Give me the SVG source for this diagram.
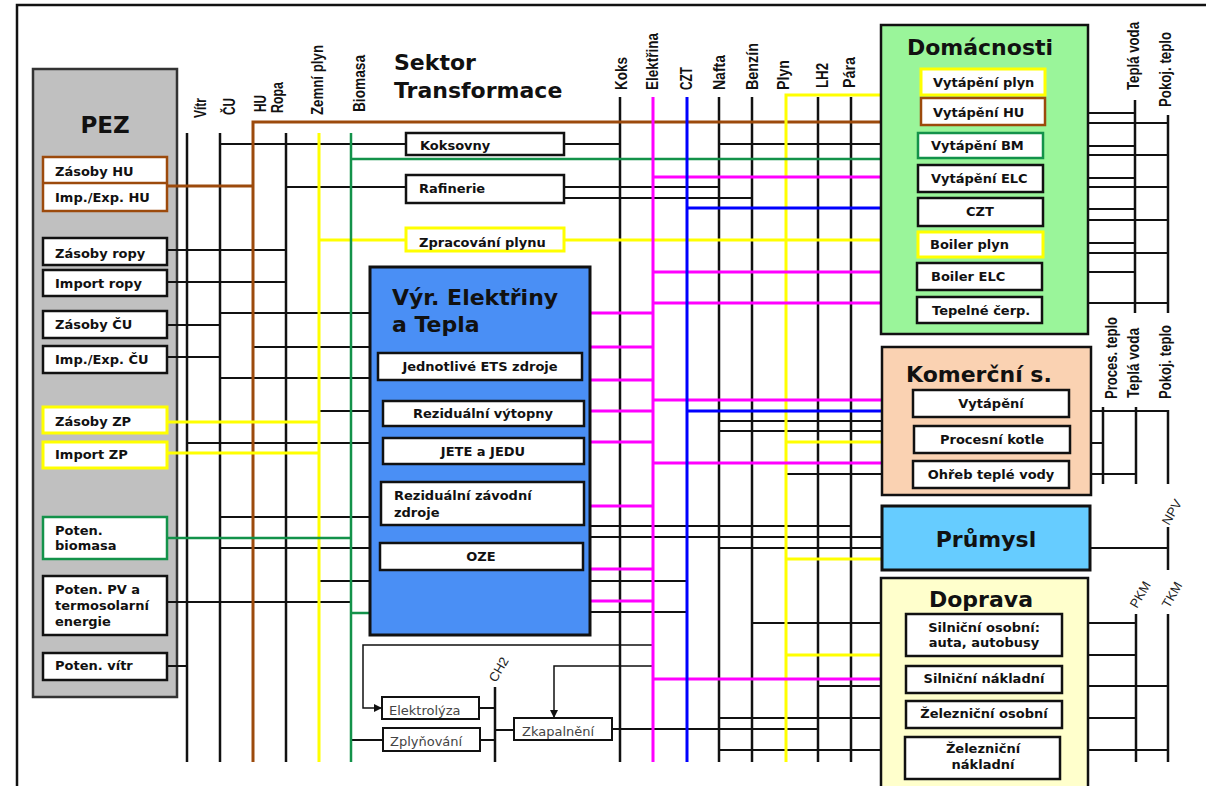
<svg xmlns="http://www.w3.org/2000/svg" width="1206" height="786" viewBox="0 0 1206 786">
<defs>
<style>
.t{font-family:"DejaVu Sans","Liberation Sans",sans-serif;font-weight:bold;font-size:13px;fill:#111}
.h{font-family:"DejaVu Sans","Liberation Sans",sans-serif;font-weight:bold;font-size:22px;fill:#111}
.v{font-family:"Liberation Sans",Arial,sans-serif;font-weight:bold;font-size:16px;fill:#111}
.d{font-family:"Liberation Sans",Arial,sans-serif;font-size:13px;fill:#222}
.s{font-family:"DejaVu Sans","Liberation Sans",sans-serif;font-size:13px;fill:#444}
.m{text-anchor:middle}
.bx{fill:#fff;stroke:#111;stroke-width:2.5}
.bxs{fill:#fff;stroke:#111;stroke-width:2}
.bbr{fill:#fff;stroke:#9c4a0c;stroke-width:2.5}
.bye{fill:#fff;stroke:#ffff00;stroke-width:3}
.bgr{fill:#fff;stroke:#13924a;stroke-width:2.5}
.k{stroke:#111;stroke-width:2;fill:none}
.kv{stroke:#111;stroke-width:2.5;fill:none}
.kt{stroke:#111;stroke-width:1.5;fill:none}
.br{stroke:#9c4a0c;stroke-width:3;fill:none}
.ye{stroke:#ffff00;stroke-width:3;fill:none}
.gr{stroke:#13924a;stroke-width:2.5;fill:none}
.mg{stroke:#ff00ff;stroke-width:3;fill:none}
.bl{stroke:#0000ff;stroke-width:3;fill:none}
</style>
<marker id="arr" markerWidth="8" markerHeight="8" refX="7" refY="4" orient="auto" markerUnits="userSpaceOnUse"><path d="M0,0 L8,4 L0,8 z" fill="#111"/></marker>
</defs>
<rect width="1206" height="786" fill="#fff"/>
<path d="M17,786 V5 H1206" fill="none" stroke="#111" stroke-width="2.5"/>

<g id="pez">
<rect x="33" y="69" width="144" height="628" fill="#c0c0c0" stroke="#333" stroke-width="2.5"/>
<text class="h m" x="105" y="133" style="font-size:23px">PEZ</text>
</g>

<g id="title-transformace">
<text class="h" x="394" y="70">Sektor</text>
<text class="h" x="394" y="98">Transformace</text>
</g>

<g id="bus-labels">
<text class="v" transform="translate(206,118) rotate(-90)" textLength="20" lengthAdjust="spacingAndGlyphs">Vítr</text>
<text class="v" transform="translate(235,115) rotate(-90)" textLength="17" lengthAdjust="spacingAndGlyphs">ČU</text>
<text class="v" transform="translate(266,112) rotate(-90)" textLength="17" lengthAdjust="spacingAndGlyphs">HU</text>
<text class="v" transform="translate(283,113) rotate(-90)" textLength="31" lengthAdjust="spacingAndGlyphs">Ropa</text>
<text class="v" transform="translate(323,115) rotate(-90)" textLength="70" lengthAdjust="spacingAndGlyphs">Zemní plyn</text>
<text class="v" transform="translate(365,112) rotate(-90)" textLength="57" lengthAdjust="spacingAndGlyphs">Biomasa</text>
<text class="v" transform="translate(627,90) rotate(-90)" textLength="33" lengthAdjust="spacingAndGlyphs">Koks</text>
<text class="v" transform="translate(658,90) rotate(-90)" textLength="57" lengthAdjust="spacingAndGlyphs">Elektřina</text>
<text class="v" transform="translate(692,90) rotate(-90)" textLength="23" lengthAdjust="spacingAndGlyphs">CZT</text>
<text class="v" transform="translate(725,90) rotate(-90)" textLength="35" lengthAdjust="spacingAndGlyphs">Nafta</text>
<text class="v" transform="translate(758,90) rotate(-90)" textLength="47" lengthAdjust="spacingAndGlyphs">Benzín</text>
<text class="v" transform="translate(789,90) rotate(-90)" textLength="30" lengthAdjust="spacingAndGlyphs">Plyn</text>
<text class="v" transform="translate(828,88) rotate(-90)" textLength="25" lengthAdjust="spacingAndGlyphs">LH2</text>
<text class="v" transform="translate(855,88) rotate(-90)" textLength="31" lengthAdjust="spacingAndGlyphs">Pára</text>
<text class="v" transform="translate(1139,90) rotate(-90)" textLength="68" lengthAdjust="spacingAndGlyphs">Teplá voda</text>
<text class="v" transform="translate(1171,107) rotate(-90)" textLength="75" lengthAdjust="spacingAndGlyphs">Pokoj. teplo</text>
<text class="v" transform="translate(1117,399) rotate(-90)" textLength="82" lengthAdjust="spacingAndGlyphs">Proces. teplo</text>
<text class="v" transform="translate(1139,398) rotate(-90)" textLength="70" lengthAdjust="spacingAndGlyphs">Teplá voda</text>
<text class="v" transform="translate(1171,399) rotate(-90)" textLength="74" lengthAdjust="spacingAndGlyphs">Pokoj. teplo</text>
<text class="d" transform="translate(1169,526) rotate(-60)">NPV</text>
<text class="d" transform="translate(1137,609) rotate(-60)">PKM</text>
<text class="d" transform="translate(1169,609) rotate(-60)">TKM</text>
<text class="d" transform="translate(496,683) rotate(-60)">CH2</text>
</g>

<g id="connectors">
<path class="kv" d="M187,133V762 M220,133V762 M286,133V762 M620,97V762 M719,97V762 M752,97V762 M818,97V762 M851,97V762 M495,687V762 M1135,100V313 M1168,115V313 M1103,407V484 M1136,407V484 M1168,410V484 M1168,527V570 M1136,614V762 M1168,614V762"/>
<path class="k" d="M220,144H406 M564,144H620 M719,144H882 M286,187H406 M564,187H719 M564,198H752 M167,250H286 M167,282H286 M220,313H370 M167,325H220 M253,347H370 M167,357H220 M220,378H370 M319,411H370 M187,443H370 M220,517H370 M220,548H370 M319,581H370 M167,602H351 M167,666H187 M719,421H882 M719,431H882 M786,474H882 M590,526H851 M590,537H882 M719,548H882 M590,581H687 M590,612H687 M752,623H881 M818,686H881 M719,718H881 M612,729H818 M719,750H881 M479,708H495 M480,740H495 M495,730H514 M351,740H383"/>
<path class="k" d="M1088,113H1135 M1088,123H1168 M1088,146H1135 M1088,155H1168 M1088,178H1135 M1088,187H1168 M1088,209H1135 M1088,220H1168 M1088,243H1135 M1088,253H1168 M1088,272H1135 M1088,303H1168 M1091,411H1168 M1091,443H1103 M1091,474H1136 M1090,548H1168 M1088,623H1136 M1088,655H1136 M1088,686H1168 M1088,718H1136 M1088,750H1168"/>
<path class="kt" d="M653,645H363V708H381" marker-end="url(#arr)"/>
<path class="kt" d="M653,666H554V717" marker-end="url(#arr)"/>
<path class="br" d="M253,762V122H921 M167,186H253"/>
<path class="ye" d="M319,133V762 M786,762V95H921 M319,240H917 M167,422H319 M167,453H319 M786,442H882 M786,559H882 M786,655H881"/>
<path class="gr" d="M351,133V762 M351,159H919 M167,538H351 M351,613H370"/>
<path class="mg" d="M653,97V762 M653,177H918 M653,272H917 M653,303H917 M653,400H882 M653,463H882 M653,679H881 M590,313H653 M590,347H653 M590,380H653 M590,411H653 M590,442H653 M590,506H653 M590,569H653 M590,601H653"/>
<path class="bl" d="M687,97V762 M687,208H918 M687,411H882"/>
</g>

<g id="pez-hu"><rect class="bbr" x="43" y="157" width="124" height="54"/><line x1="43" y1="183" x2="167" y2="183" stroke="#9c4a0c" stroke-width="2.5"/><text class="t" x="55" y="176">Zásoby HU</text><text class="t" x="55" y="202">Imp./Exp. HU</text></g>
<g id="pez-zasoby-ropy"><rect class="bx" x="43" y="238" width="124" height="27"/><text class="t" x="55" y="258">Zásoby ropy</text></g>
<g id="pez-import-ropy"><rect class="bx" x="43" y="270" width="124" height="26"/><text class="t" x="55" y="288">Import ropy</text></g>
<g id="pez-zasoby-cu"><rect class="bx" x="43" y="311" width="124" height="27"/><text class="t" x="55" y="329">Zásoby ČU</text></g>
<g id="pez-impexp-cu"><rect class="bx" x="43" y="346" width="124" height="27"/><text class="t" x="55" y="364">Imp./Exp. ČU</text></g>
<g id="pez-zasoby-zp"><rect class="bye" x="43" y="407" width="124" height="26"/><text class="t" x="55" y="426">Zásoby ZP</text></g>
<g id="pez-import-zp"><rect class="bye" x="43" y="442" width="124" height="26"/><text class="t" x="55" y="459">Import ZP</text></g>
<g id="pez-biomasa"><rect class="bgr" x="43" y="517" width="124" height="42"/><text class="t" x="55" y="535">Poten.</text><text class="t" x="55" y="550">biomasa</text></g>
<g id="pez-pv"><rect class="bx" x="43" y="576" width="124" height="59"/><text class="t" x="55" y="594">Poten. PV a</text><text class="t" x="55" y="610">termosolarní</text><text class="t" x="55" y="626">energie</text></g>
<g id="pez-vitr"><rect class="bx" x="43" y="653" width="124" height="27"/><text class="t" x="55" y="670">Poten. vítr</text></g>

<g id="koksovny"><rect class="bx" x="406" y="133" width="158" height="22"/><text class="t" x="420" y="150">Koksovny</text></g>
<g id="rafinerie"><rect class="bx" x="406" y="175" width="158" height="28"/><text class="t" x="419" y="193">Rafinerie</text></g>
<g id="zpracovani-plynu"><rect class="bye" x="406" y="228" width="158" height="23"/><text class="t" x="419" y="247">Zpracování plynu</text></g>

<g id="vyroba">
<rect x="370" y="267" width="220" height="368" fill="#4a8ff5" stroke="#111" stroke-width="3"/>
<text class="h" x="392" y="305">Výr. Elektřiny</text>
<text class="h" x="392" y="332">a Tepla</text>
</g>
<g id="ets"><rect class="bx" x="378" y="353" width="204" height="27"/><text class="t m" x="480" y="371">Jednotlivé ETS zdroje</text></g>
<g id="vytopny"><rect class="bx" x="383" y="401" width="201" height="25"/><text class="t m" x="483" y="418">Reziduální výtopny</text></g>
<g id="jete"><rect class="bx" x="383" y="438" width="201" height="26"/><text class="t m" x="483" y="456">JETE a JEDU</text></g>
<g id="zavodni"><rect class="bx" x="381" y="482" width="203" height="43"/><text class="t" x="394" y="500">Reziduální závodní</text><text class="t" x="394" y="517">zdroje</text></g>
<g id="oze"><rect class="bx" x="380" y="543" width="203" height="27"/><text class="t m" x="481" y="561">OZE</text></g>

<g id="elektrolyza"><rect class="bxs" x="382" y="697" width="97" height="22"/><text class="s" x="389" y="715">Elektrolýza</text></g>
<g id="zplynovani"><rect class="bxs" x="383" y="728" width="97" height="23"/><text class="s" x="390" y="746">Zplyňování</text></g>
<g id="zkapalneni"><rect class="bxs" x="514" y="718" width="98" height="22"/><text class="s" x="522" y="736">Zkapalnění</text></g>

<g id="domacnosti">
<rect x="881" y="25" width="207" height="309" fill="#9af59a" stroke="#111" stroke-width="2.5"/>
<text class="h m" x="980" y="55">Domácnosti</text>
</g>
<g id="vyt-plyn"><rect class="bye" x="921" y="69" width="124" height="26"/><text class="t" x="933" y="87">Vytápění plyn</text></g>
<g id="vyt-hu"><rect class="bbr" x="921" y="98" width="124" height="27"/><text class="t" x="933" y="117">Vytápění HU</text></g>
<g id="vyt-bm"><rect class="bgr" x="918" y="133" width="125" height="25"/><text class="t" x="931" y="150">Vytápění BM</text></g>
<g id="vyt-elc"><rect class="bx" x="918" y="165" width="125" height="27"/><text class="t" x="931" y="183">Vytápění ELC</text></g>
<g id="czt"><rect class="bx" x="918" y="198" width="125" height="28"/><text class="t m" x="980" y="216">CZT</text></g>
<g id="boiler-plyn"><rect class="bye" x="918" y="232" width="125" height="25"/><text class="t" x="930" y="249">Boiler plyn</text></g>
<g id="boiler-elc"><rect class="bx" x="917" y="263" width="125" height="27"/><text class="t" x="931" y="281">Boiler ELC</text></g>
<g id="tepelne-cerp"><rect class="bx" x="917" y="297" width="125" height="26"/><text class="t" x="932" y="315">Tepelné čerp.</text></g>

<g id="komercni">
<rect x="882" y="347" width="209" height="148" fill="#fad2b2" stroke="#111" stroke-width="2.5"/>
<text class="h" x="906" y="382">Komerční s.</text>
</g>
<g id="kom-vytapeni"><rect class="bx" x="913" y="390" width="156" height="27"/><text class="t m" x="991" y="408">Vytápění</text></g>
<g id="kom-kotle"><rect class="bx" x="914" y="426" width="156" height="27"/><text class="t m" x="992" y="444">Procesní kotle</text></g>
<g id="kom-ohrev"><rect class="bx" x="913" y="461" width="156" height="27"/><text class="t m" x="991" y="479">Ohřeb teplé vody</text></g>

<g id="prumysl">
<rect x="882" y="506" width="208" height="64" fill="#66ccff" stroke="#111" stroke-width="3"/>
<text class="h m" x="986" y="547">Průmysl</text>
</g>

<g id="doprava">
<rect x="881" y="578" width="207" height="220" fill="#ffffcc" stroke="#111" stroke-width="2.5"/>
<text class="h m" x="981" y="607">Doprava</text>
</g>
<g id="silnicni-osobni"><rect class="bx" x="906" y="614" width="156" height="42"/><text class="t m" x="984" y="632">Silniční osobní:</text><text class="t m" x="984" y="647">auta, autobusy</text></g>
<g id="silnicni-nakladni"><rect class="bx" x="906" y="666" width="156" height="27"/><text class="t m" x="984" y="683">Silniční nákladní</text></g>
<g id="zeleznicni-osobni"><rect class="bx" x="906" y="701" width="156" height="27"/><text class="t m" x="984" y="718">Železniční osobní</text></g>
<g id="zeleznicni-nakladni"><rect class="bx" x="905" y="737" width="155" height="42"/><text class="t m" x="983" y="753">Železniční</text><text class="t m" x="983" y="769">nákladní</text></g>
</svg>
